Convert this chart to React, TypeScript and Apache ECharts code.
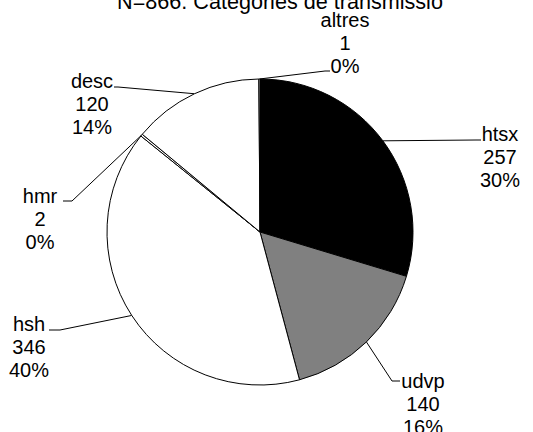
import React, { useEffect, useRef } from "react";
import * as echarts from "echarts";

const titleText = "N=866. Categories de transmissió";
const categories = ["htsx", "udvp", "hsh", "hmr", "desc", "altres"];
const values = [257, 140, 346, 2, 120, 1];
const colors = ["#000000", "#808080", "#ffffff", "#ffffff", "#ffffff", "#ffffff"];

// label block centres and label-line elbow/end points (layout only)
const labelPos: Record<string, { x: number; y: number; elbow: number[]; end: number[] }> = {
  htsx: { x: 500, y: 157, elbow: [476, 140], end: [481, 140] },
  udvp: { x: 423, y: 404, elbow: [392, 381], end: [400, 381] },
  hsh: { x: 29, y: 347, elbow: [60, 330], end: [49, 330] },
  hmr: { x: 40, y: 219, elbow: [72, 201], end: [63, 201] },
  desc: { x: 92, y: 104, elbow: [118, 87], end: [114, 87] },
  altres: { x: 345, y: 43, elbow: [325, 71], end: [330, 71] },
};

export default function App() {
  const ref = useRef<HTMLDivElement>(null);
  useEffect(() => {
    if (!ref.current) return;
    const chart = echarts.init(ref.current, undefined, { renderer: "svg" });
    const font = "'Liberation Sans', Arial, sans-serif";
    chart.setOption({
      animation: false,
      backgroundColor: "#ffffff",
      title: {
        text: titleText,
        left: 275,
        textAlign: "center",
        top: -15,
        textStyle: { fontFamily: font, fontSize: 21.6, fontWeight: "normal", color: "#000" },
      },
      series: [
        {
          type: "pie",
          center: [260, 232],
          radius: 153,
          startAngle: 90,
          clockwise: true,
          avoidLabelOverlap: false,
          percentPrecision: 0,
          data: categories.map((c, i) => ({
            name: c,
            value: values[i],
            itemStyle: { color: colors[i] },
          })),
          itemStyle: { borderColor: "#000", borderWidth: 1 },
          label: {
            show: true,
            position: "outside",
            formatter: "{b}\n{c}\n{d}%",
            fontFamily: font,
            fontSize: 20,
            lineHeight: 23,
            color: "#000",
            align: "center",
          },
          labelLine: { show: true, length: 20, length2: 10, lineStyle: { color: "#000", width: 1 } },
          labelLayout: (params: any) => {
            const name = categories[params.dataIndex];
            const p = labelPos[name];
            const start = params.labelLinePoints ? params.labelLinePoints[0] : null;
            const res: any = { x: p.x, y: p.y, align: "center", verticalAlign: "middle" };
            if (start) res.labelLinePoints = [start, p.elbow, p.end];
            return res;
          },
          emphasis: { disabled: true },
        },
      ],
    });
    return () => chart.dispose();
  }, []);
  return (
    <div
      ref={ref}
      style={{ position: "fixed", left: 0, top: 0, width: 533, height: 432 }}
    />
  );
}
